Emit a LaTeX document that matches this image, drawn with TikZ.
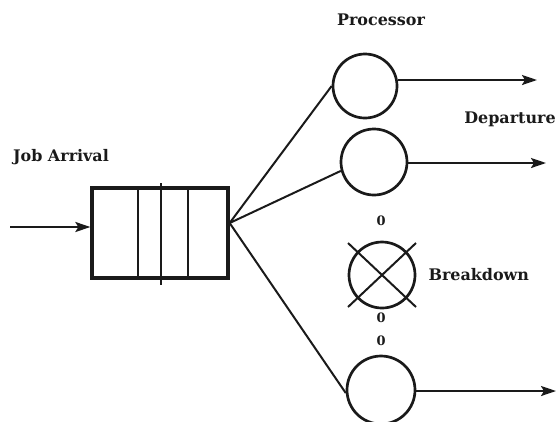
\documentclass[tikz,border=0pt]{standalone}
\usepackage{fontspec}
\setmainfont{DejaVu Serif}
\usetikzlibrary{positioning,arrows.meta,calc}
\definecolor{inkgrey}{HTML}{1A1A1A}
\tikzset{
  qbox/.style={
    draw=inkgrey, line width=3.3pt, minimum width=136bp, minimum height=90bp,
    inner sep=0pt,
  },
  proc/.style={draw=inkgrey, circle, line width=2.7pt, inner sep=0pt,
               minimum size=64bp},
  flow/.style={-{Stealth[length=15bp, width=10bp, inset=3bp]}, draw=inkgrey,
               line width=2.2pt},
  link/.style={draw=inkgrey, line width=2pt},
  divider/.style={draw=inkgrey, line width=2pt},
  lbl/.style={font=\fontsize{16}{18}\selectfont\bfseries, text=inkgrey,
              inner sep=0pt},
  dot/.style={font=\fontsize{13}{14}\selectfont\bfseries, text=inkgrey,
              inner sep=0pt},
}
\begin{document}
\begin{tikzpicture}[x=1bp, y=-1bp]
\useasboundingbox (0,0) rectangle (557,421);

% ---------------------------------------------------------------- queue
\node[qbox] (queue) at (160,233) {};
\coordinate (jobin) at (10,227);
\node[lbl] (arrival) at (61,157) {Job Arrival};

% the three slots of the waiting line
\draw[divider] ($(queue.north west)+(48,0)$) -- ($(queue.south west)+(48,-3)$);
\draw[divider] ($(queue.north west)+(71,-3)$) -- ($(queue.south west)+(71,5)$);
\draw[divider] ($(queue.north west)+(98,0)$) -- ($(queue.south west)+(98,0)$);
\coordinate (fan) at ($(queue.east)+(0,-10)$);

% ---------------------------------------------------------------- processors
\node[proc] (p1) at (365,86) {};
\node[proc, minimum size=66bp] (p2) at (374,162) {};
\node[proc, minimum size=66bp] (brk) at (382,275) {};
\node[proc, minimum size=68bp] (p3) at (381,390) {};

\node[lbl] (proclbl) at (381,20) {Processor};
\node[lbl] (deplbl) at (510,119) {Departure};
\node[lbl, right=12bp of brk] (brklbl) {Breakdown};

% broken processor is crossed out
\draw[link] ($(brk)+(-34,-32)$) -- ($(brk)+(34,32)$);
\draw[link] ($(brk)+(34,-32)$) -- ($(brk)+(-34,32)$);

\node[dot] (d1) at (381,221) {0};
\node[dot] (d2) at (381,318) {0};
\node[dot] (d3) at (381,341) {0};

% ---------------------------------------------------------------- edges
\coordinate (out1) at (537,80);
\coordinate (out2) at (546,163);
\coordinate (out3) at (556,391);

\draw[flow] (jobin) -- (queue.west |- jobin);
\draw[link] (fan) -- (p1.west);
\draw[link] (fan) -- (p2.195);
\draw[link] (fan) -- (p3.185);
\draw[flow] (p1.east |- out1) -- (out1);
\draw[flow] (p2.east |- out2) -- (out2);
\draw[flow] (p3.east |- out3) -- (out3);

\end{tikzpicture}
\end{document}
